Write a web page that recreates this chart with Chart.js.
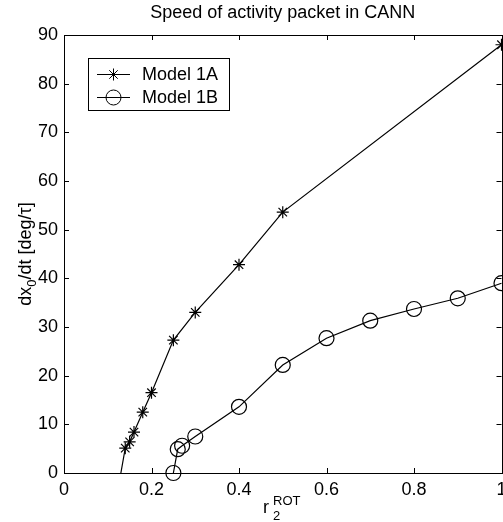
<!DOCTYPE html>
<html lang="en">
<head>
    <meta charset="UTF-8">
    <title>Speed of activity packet in CANN</title>
    <script src="https://cdn.jsdelivr.net/npm/chart.js@4.4.1/dist/chart.umd.min.js"></script>
    <style>
        html, body { margin: 0; padding: 0; background: #fff; overflow: hidden; }
        #wrap { width: 503px; height: 522px; position: relative; }
    </style>
</head>
<body>
    <div id="wrap"><canvas id="speedChart"></canvas></div>

    <script>
        // r2^ROT values and packet speed for the two models
        const rA = [0.13, 0.14, 0.15, 0.16, 0.18, 0.20, 0.25, 0.30, 0.40, 0.50, 1.00];
        const speedA = [0, 5.1, 6.4, 8.4, 12.5, 16.5, 27.3, 33.0, 42.8, 53.6, 88.0];
        const rB = [0.25, 0.26, 0.27, 0.30, 0.40, 0.50, 0.60, 0.70, 0.80, 0.90, 1.00];
        const speedB = [0, 4.9, 5.6, 7.5, 13.6, 22.2, 27.7, 31.3, 33.7, 35.9, 39.0];
        const seriesNames = ['Model 1A', 'Model 1B'];
        const xTicks = [0, 0.2, 0.4, 0.6, 0.8, 1];
        const yTicks = [0, 10, 20, 30, 40, 50, 60, 70, 80, 90];

        const FONT = '"Liberation Sans", Arial, Helvetica, sans-serif';

        const toPoints = (xs, ys) => xs.map((x, i) => ({ x: x, y: ys[i] }));

        // first point of model 1A is only where the curve meets zero, no marker
        const radiusA = rA.map((_, i) => i === 0 ? 0 : 6);

        // box, inward ticks, title, axis labels and legend
        const matlabFrame = {
            id: 'matlabFrame',
            beforeDraw(chart) {
                const c = chart.ctx;
                c.save();
                c.fillStyle = '#fff';
                c.fillRect(0, 0, chart.width, chart.height);
                c.restore();
            },
            beforeDatasetsDraw(chart) {
                const c = chart.ctx;
                const a = chart.chartArea;
                const xs = chart.scales.x, ys = chart.scales.y;
                const len = 5;
                c.save();
                c.strokeStyle = '#000';
                c.lineWidth = 1;
                c.beginPath();
                xTicks.forEach(v => {
                    const px = Math.round(xs.getPixelForValue(v)) + 0.5;
                    c.moveTo(px, a.bottom); c.lineTo(px, a.bottom - len);
                    c.moveTo(px, a.top); c.lineTo(px, a.top + len);
                });
                yTicks.forEach(v => {
                    const py = Math.round(ys.getPixelForValue(v)) + 0.5;
                    c.moveTo(a.left, py); c.lineTo(a.left + len, py);
                    c.moveTo(a.right, py); c.lineTo(a.right - len, py);
                });
                c.stroke();
                c.strokeRect(Math.round(a.left) + 0.5, Math.round(a.top) + 0.5,
                    Math.round(a.right - a.left), Math.round(a.bottom - a.top));
                c.restore();
            },
            afterDraw(chart) {
                const c = chart.ctx;
                const a = chart.chartArea;
                c.save();
                c.fillStyle = '#000';
                c.textBaseline = 'alphabetic';

                // title
                c.font = '18px ' + FONT;
                c.textAlign = 'center';
                c.fillText('Speed of activity packet in CANN', (a.left + a.right) / 2, 18);

                // y axis label: dx_0/dt [deg/τ]
                c.textAlign = 'left';
                const big = '18px ' + FONT, small = '13px ' + FONT;
                const parts = [
                    { t: 'dx', f: big, dy: 0 },
                    { t: '0', f: small, dy: 5 },
                    { t: '/dt [deg/τ]', f: big, dy: 0 }
                ];
                let total = 0;
                parts.forEach(p => { c.font = p.f; p.w = c.measureText(p.t).width; total += p.w; });
                c.save();
                c.translate(31, (a.top + a.bottom) / 2);
                c.rotate(-Math.PI / 2);
                let cx = -total / 2;
                parts.forEach(p => { c.font = p.f; c.fillText(p.t, cx, p.dy); cx += p.w; });
                c.restore();

                // x axis label: r_2^ROT
                c.font = big;
                c.fillText('r', 263, 513);
                c.font = small;
                c.fillText('ROT', 273, 505);
                c.fillText('2', 273, 520);

                // legend
                const bx = 88, by = 58, bw = 141, bh = 52;
                c.fillStyle = '#fff';
                c.fillRect(bx, by, bw, bh);
                c.strokeStyle = '#000';
                c.lineWidth = 1;
                c.strokeRect(bx + 0.5, by + 0.5, bw, bh);
                const rows = [74, 97];
                chart.data.datasets.forEach((ds, i) => {
                    const y = rows[i] + 0.5;
                    c.strokeStyle = '#000';
                    c.lineWidth = 1.2;
                    c.beginPath();
                    c.moveTo(97, y); c.lineTo(130, y);
                    c.stroke();
                    c.lineWidth = 1;
                    c.fillStyle = 'rgba(0,0,0,0)';
                    Chart.helpers.drawPoint(c, {
                        pointStyle: ds.pointStyle,
                        radius: i === 0 ? 6 : 7.5,
                        rotation: 0,
                        borderWidth: 1
                    }, 113.5, y);
                    c.fillStyle = '#000';
                    c.font = big;
                    c.textBaseline = 'middle';
                    c.fillText(ds.label, 142, rows[i] + 1);
                });
                c.restore();
            }
        };

        const ctx = document.getElementById('speedChart').getContext('2d');
        new Chart(ctx, {
            type: 'scatter',
            data: {
                datasets: [{
                    label: seriesNames[0],
                    data: toPoints(rA, speedA),
                    showLine: true,
                    borderColor: '#000',
                    borderWidth: 1.2,
                    pointStyle: 'star',
                    pointRadius: radiusA,
                    pointBorderWidth: 1.2,
                    pointBorderColor: '#000',
                    pointBackgroundColor: 'rgba(0,0,0,0)',
                    clip: false
                }, {
                    label: seriesNames[1],
                    data: toPoints(rB, speedB),
                    showLine: true,
                    borderColor: '#000',
                    borderWidth: 1.2,
                    pointStyle: 'circle',
                    pointRadius: 7.5,
                    pointBorderWidth: 1.2,
                    pointBorderColor: '#000',
                    pointBackgroundColor: 'rgba(0,0,0,0)',
                    clip: false
                }]
            },
            options: {
                responsive: true,
                maintainAspectRatio: false,
                animation: false,
                layout: { autoPadding: false, padding: { left: 0, right: 1.5, top: 35, bottom: 0 } },
                plugins: {
                    legend: { display: false },
                    title: { display: false },
                    tooltip: { enabled: false }
                },
                scales: {
                    x: {
                        type: 'linear',
                        min: 0,
                        max: 1,
                        afterBuildTicks: s => { s.ticks = xTicks.map(v => ({ value: v })); },
                        ticks: {
                            color: '#000',
                            font: { family: FONT, size: 18 },
                            padding: 6,
                            maxRotation: 0,
                            autoSkip: false,
                            callback: v => String(Number(v.toFixed(1)))
                        },
                        grid: { display: false, drawTicks: false },
                        border: { display: false },
                        afterFit: s => { s.height = 49; s.paddingLeft = 0; s.paddingRight = 0; }
                    },
                    y: {
                        type: 'linear',
                        min: 0,
                        max: 90,
                        afterBuildTicks: s => { s.ticks = yTicks.map(v => ({ value: v })); },
                        ticks: {
                            color: '#000',
                            font: { family: FONT, size: 18 },
                            padding: 6,
                            autoSkip: false
                        },
                        grid: { display: false, drawTicks: false },
                        border: { display: false },
                        afterFit: s => { s.width = 64; s.paddingTop = 0; s.paddingBottom = 0; }
                    }
                }
            },
            plugins: [matlabFrame]
        });
    </script>
</body>
</html>
